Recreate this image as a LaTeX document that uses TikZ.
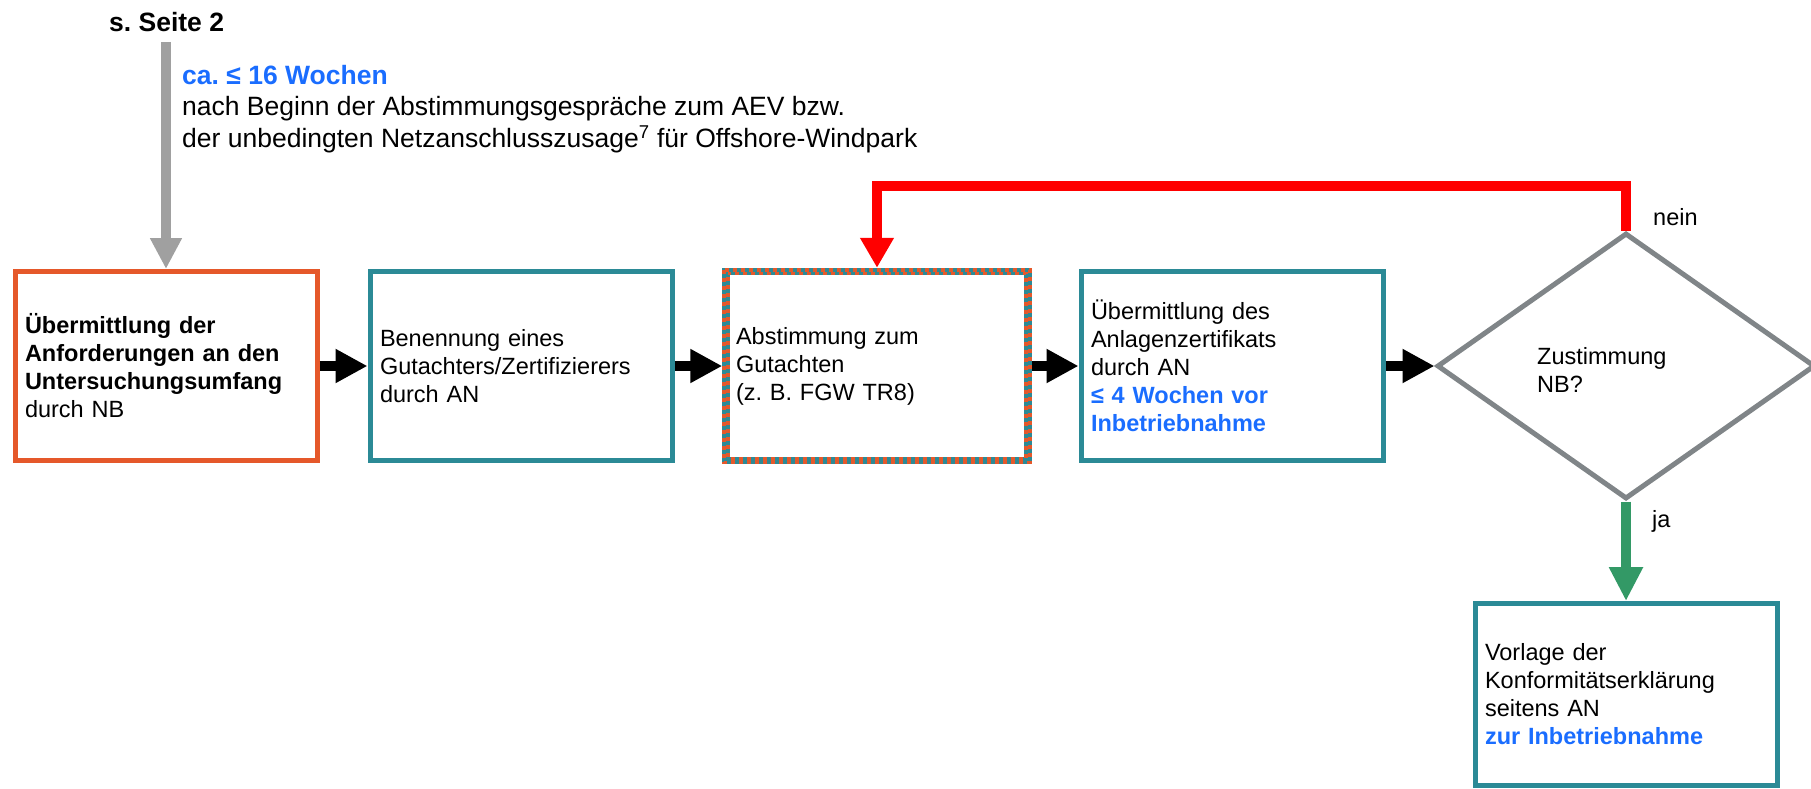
\documentclass[tikz,border=0pt]{standalone}
\usepackage{fontspec}
\setmainfont{Liberation Sans}
\usetikzlibrary{arrows.meta,shapes.geometric}
\definecolor{cOrange}{HTML}{E5582A}
\definecolor{cTeal}{HTML}{2B8A96}
\definecolor{cBlue}{HTML}{1A6DFF}
\definecolor{cGray}{HTML}{808588}
\definecolor{cArrowGray}{HTML}{A0A0A0}
\definecolor{cRed}{HTML}{FF0000}
\definecolor{cGreen}{HTML}{339966}
\frenchspacing
\begin{document}
\begin{tikzpicture}[x=1pt,y=-1pt,
  boxtxt/.style={font=\fontsize{23.5}{28}\selectfont},
  toptxt/.style={font=\fontsize{26.5}{31.5}\selectfont},
  stepbox/.style={draw, line width=5pt, minimum width=302pt, minimum height=189pt,
    text width=282pt, inner xsep=10pt, inner ysep=0pt, align=left, boxtxt},
  flowarrow/.style={line width=10pt, -{Triangle[length=32pt,width=32pt]}},
  checker/.style={cOrange, line width=3.75pt, dash pattern=on 4pt off 4pt}
]
\useasboundingbox (0,0) rectangle (1811,789);

% top texts
\node[toptxt, font=\fontsize{26.5}{31.5}\selectfont\bfseries, anchor=base west, inner sep=0pt] (seite) at (109,32) {s. Seite 2};
\node[toptxt, anchor=north west, align=left, inner sep=0pt] (dauer) at (182,65)
  {\textcolor{cBlue}{\textbf{ca. ≤ 16 Wochen}}\\
   nach Beginn der Abstimmungsgespräche zum AEV bzw.\\
   der unbedingten Netzanschlusszusage\textsuperscript{7} für Offshore-Windpark};

% boxes
\node[stepbox, draw=cOrange] (b1) at (166,366)
  {\textbf{Übermittlung der}\\\textbf{Anforderungen an den}\\\textbf{Untersuchungsumfang}\\durch NB};
\node[stepbox, draw=cTeal] (b2) at (521,366)
  {Benennung eines\\Gutachters/Zertifizierers\\durch AN};
\node[stepbox, draw=cTeal, line width=7.5pt] (b3) at (877,366)
  {Abstimmung zum\\Gutachten\\(z.\ B. FGW TR8)};
\draw[checker] ([shift={(1.875,1.875)}]b3.north west) rectangle ([shift={(-1.875,-1.875)}]b3.south east);
\draw[checker, dash phase=4pt] ([shift={(5.625,5.625)}]b3.north west) rectangle ([shift={(-5.625,-5.625)}]b3.south east);
\node[stepbox, draw=cTeal] (b4) at (1232,366)
  {Übermittlung des\\Anlagenzertifikats\\durch AN\\\textcolor{cBlue}{\textbf{≤ 4 Wochen vor}}\\\textcolor{cBlue}{\textbf{Inbetriebnahme}}};
\node[diamond, draw=cGray, line width=5pt, minimum width=378pt, minimum height=266pt,
  inner sep=0pt, aspect=1.42] (dia) at (1626,366) {};
\node[boxtxt, anchor=west, align=left, inner sep=0pt] (diatxt) at (1537,370) {Zustimmung\\NB?};
\node[stepbox, draw=cTeal, minimum height=182pt] (b5) at (1626,694.5)
  {Vorlage der\\Konformitätserklärung\\seitens AN\\\textcolor{cBlue}{\textbf{zur Inbetriebnahme}}};

% labels
\node[boxtxt, anchor=base west, inner sep=0pt] (nein) at (1653,225) {nein};
\node[boxtxt, anchor=base west, inner sep=0pt] (ja) at (1652,527) {ja};

% connectors
\coordinate (gtop) at (166,42);
\draw[cArrowGray, line width=10pt, -{Triangle[length=31pt,width=30pt]}] (gtop) -- (b1.north);
\draw[flowarrow] (b1) -- (b2);
\draw[flowarrow] (b2) -- (b3);
\draw[flowarrow] (b3) -- (b4);
\draw[flowarrow] (b4) -- (dia);
\coordinate (rc) at (1626,186);
\draw[cRed, line width=10pt, -{Triangle[length=30pt,width=32pt]}] (dia.north) -- (rc) -| (b3.north);
\draw[cGreen, line width=10pt, -{Triangle[length=34pt,width=32pt]}] (dia.south) -- (b5.north);
\end{tikzpicture}
\end{document}
